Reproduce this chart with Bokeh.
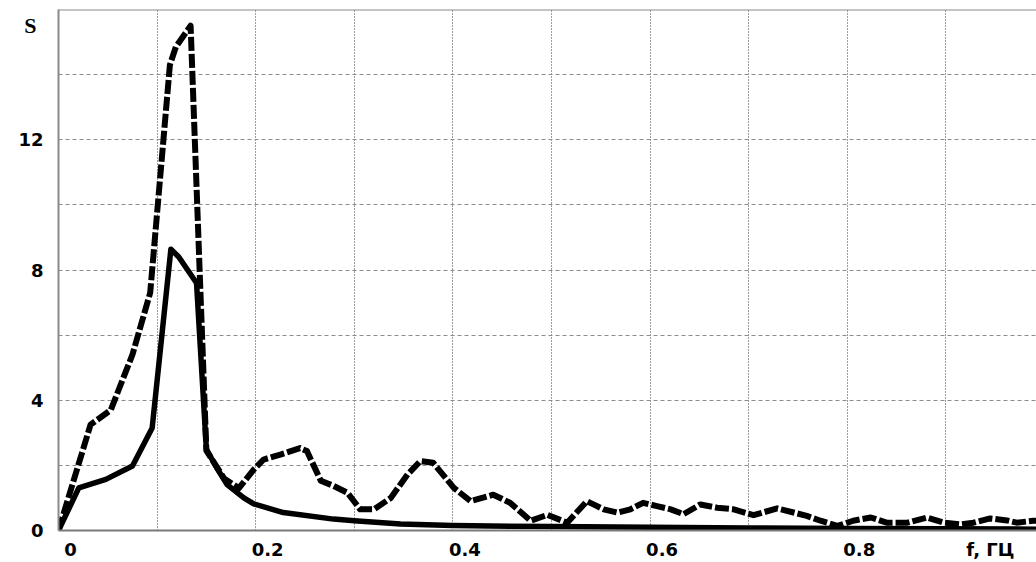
from bokeh.plotting import figure
from bokeh.models import Range1d, LinearAxis, FixedTicker, Span
from bokeh.embed import file_html
from bokeh.resources import INLINE

# ---- data ----
freq_solid = [0, 0.0206, 0.048, 0.075, 0.095, 0.114, 0.122, 0.140, 0.150, 0.160,
              0.171, 0.188, 0.198, 0.228, 0.279, 0.300, 0.347, 0.400, 0.500, 0.600,
              0.700, 0.800, 0.900, 1.000]
s_solid = [0, 1.31, 1.57, 1.98, 3.15, 8.64, 8.40, 7.60, 2.50, 1.95,
           1.41, 1.00, 0.82, 0.55, 0.35, 0.30, 0.20, 0.15, 0.12, 0.10,
           0.08, 0.06, 0.05, 0.04]

freq_dashed = [0, 0.0325, 0.053, 0.075, 0.093, 0.113, 0.119, 0.134, 0.1435, 0.150,
               0.168, 0.183, 0.198, 0.208, 0.225, 0.245, 0.252, 0.266, 0.279, 0.293,
               0.306, 0.320, 0.337, 0.354, 0.367, 0.380, 0.401, 0.418, 0.441, 0.458,
               0.479, 0.496, 0.516, 0.536, 0.553, 0.567, 0.580, 0.593, 0.607, 0.621,
               0.634, 0.651, 0.668, 0.685, 0.705, 0.729, 0.759, 0.773, 0.790, 0.806,
               0.824, 0.840, 0.861, 0.881, 0.898, 0.915, 0.928, 0.945, 0.962, 0.972,
               0.989, 1.000]
s_dashed = [0, 3.25, 3.70, 5.40, 7.30, 14.30, 14.85, 15.50, 7.70, 2.45,
            1.60, 1.30, 1.87, 2.18, 2.33, 2.53, 2.44, 1.53, 1.37, 1.16,
            0.65, 0.65, 1.00, 1.72, 2.13, 2.08, 1.31, 0.90, 1.10, 0.85,
            0.30, 0.48, 0.24, 0.90, 0.65, 0.55, 0.65, 0.85, 0.75, 0.65,
            0.50, 0.80, 0.70, 0.65, 0.47, 0.68, 0.45, 0.30, 0.14, 0.30,
            0.40, 0.24, 0.24, 0.40, 0.24, 0.19, 0.24, 0.37, 0.31, 0.24,
            0.30, 0.30]

# tick labels (the x-axis unit sits on the tick-label line, the y-axis name above the numbers)
x_tick_values = [0, 0.2, 0.4, 0.6, 0.8, 0.933]
x_tick_labels = ["0", "0.2", "0.4", "0.6", "0.8", "f, ГЦ"]
y_tick_values = [0, 4, 8, 12]
y_tick_labels = ["0", "4", "8", "12"]
y_name_value = [15.5]
y_name_label = ["S"]
x_grid_values = [0.1, 0.2, 0.3, 0.4, 0.5, 0.6, 0.7, 0.8, 0.9, 1.0]
y_grid_values = [2, 4, 6, 8, 10, 12, 14]

X_START, X_END = 0.0, 0.992
Y_START, Y_END = 0.0, 16.0
LABEL_SHIFT = 0.0122   # x tick labels sit slightly right of their grid line

TICK_FONT = "DejaVu Sans"

p = figure(width=1036, height=562,
           x_range=Range1d(X_START, X_END), y_range=Range1d(Y_START, Y_END),
           output_backend="svg", toolbar_location=None,
           x_axis_location=None,
           min_border_left=58, min_border_right=0, min_border_top=9, min_border_bottom=29,
           background_fill_color="white", border_fill_color="white")
p.outline_line_color = None

# shifted range for the x tick labels
p.extra_x_ranges = {"lab": Range1d(X_START - LABEL_SHIFT, X_END - LABEL_SHIFT)}
xax = LinearAxis(x_range_name="lab", ticker=FixedTicker(ticks=x_tick_values),
                 major_label_overrides={v: l for v, l in zip(x_tick_values, x_tick_labels)})
xax.axis_line_color = "#7a7a7a"
xax.axis_line_width = 2
xax.major_tick_line_color = None
xax.minor_tick_line_color = None
xax.major_tick_out = 0
xax.major_tick_in = 0
xax.major_label_standoff = 8
xax.major_label_text_font = TICK_FONT
xax.major_label_text_font_style = "bold"
xax.major_label_text_font_size = "18px"
xax.major_label_text_color = "black"
p.add_layout(xax, "below")

# inner left axis: carries the axis line and the "S" name
sax = p.yaxis[0]
sax.ticker = FixedTicker(ticks=y_name_value)
sax.major_label_overrides = {v: l for v, l in zip(y_name_value, y_name_label)}
sax.axis_line_color = "#8a8a8a"
sax.axis_line_width = 2
sax.major_tick_line_color = None
sax.minor_tick_line_color = None
sax.major_tick_out = 0
sax.major_tick_in = 0
sax.major_label_standoff = 22
sax.major_label_text_font = "Liberation Serif"
sax.major_label_text_font_style = "bold"
sax.major_label_text_font_size = "22px"
sax.major_label_text_color = "black"

# outer left axis: numbers, pulled back next to the frame
yax = LinearAxis(ticker=FixedTicker(ticks=y_tick_values),
                 major_label_overrides={v: l for v, l in zip(y_tick_values, y_tick_labels)})
yax.axis_line_color = None
yax.major_tick_line_color = None
yax.minor_tick_line_color = None
yax.major_tick_out = 0
yax.major_tick_in = 0
yax.major_label_standoff = -22
yax.major_label_text_font = TICK_FONT
yax.major_label_text_font_style = "bold"
yax.major_label_text_font_size = "18px"
yax.major_label_text_color = "black"
p.add_layout(yax, "left")

# grids
p.xgrid.ticker = FixedTicker(ticks=x_grid_values)
p.xgrid.grid_line_color = "#3a3a3a"
p.xgrid.grid_line_width = 1
p.xgrid.grid_line_dash = "1 2"
p.ygrid.ticker = FixedTicker(ticks=y_grid_values)
p.ygrid.grid_line_color = "#8c8c8c"
p.ygrid.grid_line_width = 1.2
p.ygrid.grid_line_dash = "4 3"

# top border line
p.add_layout(Span(location=Y_END, dimension="width", line_color="#8a8a8a", line_width=2))

# series
p.line(freq_solid, s_solid, line_color="black", line_width=5.5, line_join="round")
p.line(freq_dashed, s_dashed, line_color="black", line_width=6, line_dash="14 3",
       line_join="round")

open("out.html", "w").write(file_html(p, INLINE))
